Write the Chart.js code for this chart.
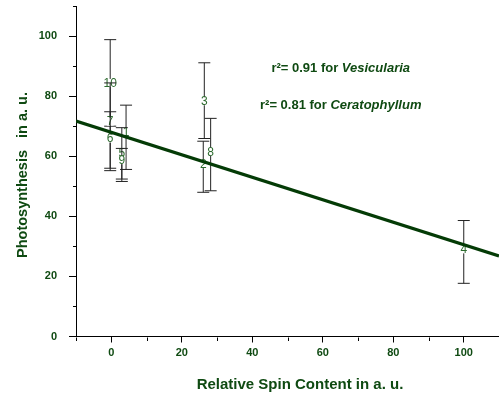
<!DOCTYPE html>
<html><head><meta charset="utf-8">
<script src="https://cdn.jsdelivr.net/npm/chart.js@4"></script>
<style>html,body{margin:0;padding:0;background:#fff;overflow:hidden}</style>
</head><body>
<canvas id="c" width="499" height="399"></canvas>
<script>
// ---- data ----
const pointIds = ['10','7','6','1','5','9','3','2','8','4'];
const spinX    = [-0.3, -0.3, -0.3, 4.2, 3.0, 3.0, 26.4, 26.1, 28.2, 100];
const photoY   = [84.4, 71.5, 65.9, 68.0, 61.0, 58.7, 78.3, 57.4, 61.5, 29.0];
const errHigh  = [98.8, 84.4, 74.8, 77.0, 69.5, 62.6, 91.1, 65.0, 72.6, 38.6];
const errLow   = [70.0, 56.0, 55.2, 55.6, 52.4, 51.6, 65.9, 48.0, 48.5, 17.7];
const fitX = [-10, 110];
const fitY = [71.7, 26.8];
const xTickValues = [0, 20, 40, 60, 80, 100];
const yTickValues = [0, 20, 40, 60, 80, 100];
const xMinorTicks = [-10, 10, 30, 50, 70, 90, 110];
const yMinorTicks = [10, 30, 50, 70, 90, 110];
const rLabels = ['r\u00B2= 0.91 for ', 'r\u00B2= 0.81 for '];
const speciesNames = ['Vesicularia', 'Ceratophyllum'];
const annotX = [65.1, 65.1];
const annotY = [89.3, 77.0];
const xTitle = 'Relative Spin Content in a. u.';
const yTitle = 'Photosynthesis   in a. u.';

const FONT = "'Liberation Sans', Arial, sans-serif";
const DARK = '#0f4a12';
const LINE = '#043b06';
const LABEL = '#2d6b2f';

const decor = {
  id: 'decor',
  beforeDatasetsDraw(chart) {
    const ctx = chart.ctx, xs = chart.scales.x, ys = chart.scales.y;
    ctx.save();
    ctx.font = '12px ' + FONT;
    ctx.textAlign = 'center';
    ctx.textBaseline = 'middle';
    for (let i = 0; i < pointIds.length; i++) {
      const px = xs.getPixelForValue(spinX[i]);
      const pyH = ys.getPixelForValue(errHigh[i]);
      const pyL = ys.getPixelForValue(errLow[i]);
      const py = ys.getPixelForValue(photoY[i]);
      ctx.strokeStyle = '#222';
      ctx.lineWidth = 1;
      ctx.beginPath();
      ctx.moveTo(px, pyH); ctx.lineTo(px, pyL);
      ctx.moveTo(px - 6, pyH); ctx.lineTo(px + 6, pyH);
      ctx.moveTo(px - 6, pyL); ctx.lineTo(px + 6, pyL);
      ctx.stroke();
      const w = ctx.measureText(pointIds[i]).width;
      ctx.fillStyle = '#fff';
      ctx.fillRect(px - w / 2, py - 4, w, 8);
      ctx.fillStyle = LABEL;
      ctx.fillText(pointIds[i], px, py + 0.5);
    }
    ctx.restore();
  },
  afterDraw(chart) {
    const ctx = chart.ctx, xs = chart.scales.x, ys = chart.scales.y;
    ctx.save();
    // minor ticks
    ctx.strokeStyle = '#000';
    ctx.lineWidth = 1;
    ctx.beginPath();
    const xb = Math.round(ys.getPixelForValue(0)) + 0.5;
    xMinorTicks.forEach(v => {
      const p = Math.round(xs.getPixelForValue(v)) + 0.5;
      ctx.moveTo(p, xb); ctx.lineTo(p, xb + 3.5);
    });
    const yl = Math.round(xs.getPixelForValue(-10)) + 0.5;
    yMinorTicks.forEach(v => {
      const p = Math.round(ys.getPixelForValue(v)) + 0.5;
      ctx.moveTo(yl, p); ctx.lineTo(yl - 3.5, p);
    });
    ctx.stroke();
    // r2 annotations
    ctx.fillStyle = DARK;
    ctx.textBaseline = 'middle';
    ctx.textAlign = 'left';
    for (let i = 0; i < rLabels.length; i++) {
      const fN = 'bold 13px ' + FONT, fI = 'italic bold 13px ' + FONT;
      ctx.font = fN; const w1 = ctx.measureText(rLabels[i]).width;
      ctx.font = fI; const w2 = ctx.measureText(speciesNames[i]).width;
      const cx = xs.getPixelForValue(annotX[i]);
      const cy = ys.getPixelForValue(annotY[i]);
      let x0 = cx - (w1 + w2) / 2;
      ctx.font = fN; ctx.fillText(rLabels[i], x0, cy);
      ctx.font = fI; ctx.fillText(speciesNames[i], x0 + w1, cy);
    }
    // axis titles
    ctx.font = 'bold 15px ' + FONT;
    ctx.textAlign = 'center';
    ctx.fillText(xTitle, 300, 385);
    ctx.translate(22.5, 175);
    ctx.rotate(-Math.PI / 2);
    ctx.font = 'bold 14.5px ' + FONT;
    ctx.fillText(yTitle, 0, 0);
    ctx.restore();
  }
};

new Chart(document.getElementById('c'), {
  type: 'scatter',
  data: {
    datasets: [
      { type: 'line', data: fitX.map((x, i) => ({ x, y: fitY[i] })), borderColor: LINE,
        borderWidth: 3.2, pointRadius: 0, fill: false, tension: 0 },
      { data: spinX.map((x, i) => ({ x, y: photoY[i] })), pointRadius: 0, showLine: false }
    ]
  },
  options: {
    responsive: false,
    animation: false,
    events: [],
    layout: { padding: { top: 6, right: 0, left: 0, bottom: 0 } },
    plugins: { legend: { display: false }, tooltip: { enabled: false } },
    scales: {
      x: {
        type: 'linear', position: 'bottom', min: -10, max: 110,
        afterBuildTicks: s => { s.ticks = xTickValues.map(v => ({ value: v })); },
        afterFit: s => { s.height = 62.5; s.paddingLeft = 0; s.paddingRight = 0; },
        ticks: { color: DARK, font: { size: 11, weight: 'bold', family: FONT }, padding: 4, maxRotation: 0, autoSkip: false },
        grid: { drawOnChartArea: false, drawTicks: true, tickLength: 6, color: '#000', tickColor: '#000' },
        border: { display: true, color: '#000', width: 1 }
      },
      y: {
        type: 'linear', position: 'left', min: 0, max: 110,
        afterBuildTicks: s => { s.ticks = yTickValues.map(v => ({ value: v })); },
        afterFit: s => { s.width = 76; s.paddingTop = 0; s.paddingBottom = 0; },
        ticks: { color: DARK, font: { size: 11, weight: 'bold', family: FONT }, padding: 12, autoSkip: false },
        grid: { drawOnChartArea: false, drawTicks: true, tickLength: 7, color: '#000', tickColor: '#000' },
        border: { display: true, color: '#000', width: 1 }
      }
    }
  },
  plugins: [decor]
});
</script>
</body></html>
